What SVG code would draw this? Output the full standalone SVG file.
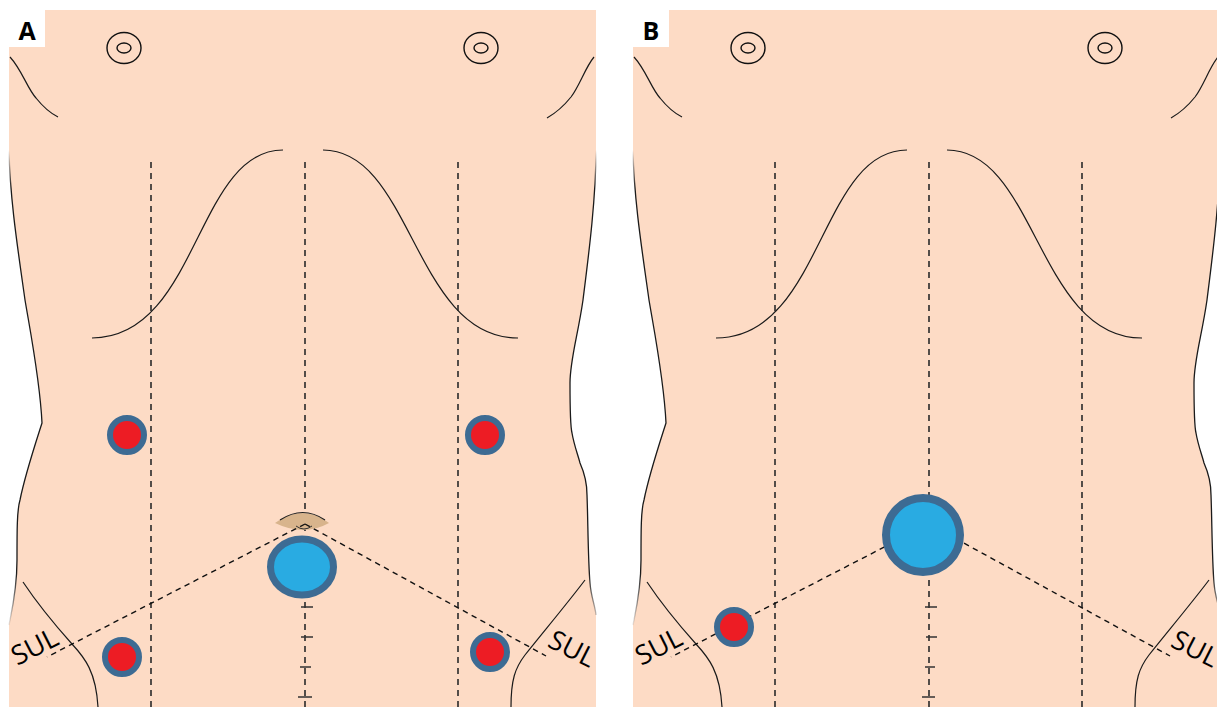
<svg xmlns="http://www.w3.org/2000/svg" width="1217" height="707" viewBox="0 0 1217 707">
<style>
.skin{fill:#fddbc5}
.outline{fill:none;stroke:url(#fadeV);stroke-width:1.3}
.crease{fill:none;stroke:#1a1a1a;stroke-width:1.2}
.nip{fill:none;stroke:#111;stroke-width:1.4}
.vdash{fill:none;stroke:#2a2a2a;stroke-width:1.6;stroke-dasharray:6 5}
.sul{fill:none;stroke:#111;stroke-width:1.4;stroke-dasharray:5.5 4.5}
.tick{stroke:#333;stroke-width:1.7}
.red{fill:#ed1c24;stroke:#3d6b93;stroke-width:6}
.blue{fill:#29abe2;stroke:#3d6b93}
.lbl{font-family:"Open Sans","Liberation Sans",sans-serif;font-size:27px;fill:#000}
.pl{font-family:"Open Sans","Liberation Sans",sans-serif;font-size:25px;font-weight:bold;fill:#000}
</style>
<defs>
<linearGradient id="fadeV" gradientUnits="userSpaceOnUse" x1="0" y1="150" x2="0" y2="630">
<stop offset="0" stop-color="#1a1a1a" stop-opacity="0"/>
<stop offset="0.08" stop-color="#1a1a1a" stop-opacity="1"/>
<stop offset="0.88" stop-color="#1a1a1a" stop-opacity="1"/>
<stop offset="1" stop-color="#1a1a1a" stop-opacity="0"/>
</linearGradient>
<g id="torso">
<path class="skin" d="M9,10 H596 V150 C596,200 588,260 583,300 C578,335 570,360 570,383 C570,410 570,425 572,433 C574,445 578,455 580,463 C584,472 587,482 587,495 C588,520 588,560 590,583 C591,597 595,605 596,615 V707 H9 V625 C12,610 17,590 17,560 C17,530 17,510 20,500 C25,475 35,445 42,423 C40,380 30,330 25,300 C18,250 10,200 9,150 Z"/>
<path class="outline" d="M9,150 C10,200 18,250 25,300 C30,330 40,380 42,423 C35,445 25,475 20,500 C17,510 17,530 17,560 C17,590 12,610 9,625"/>
<path class="outline" d="M596,150 C596,200 588,260 583,300 C578,335 570,360 570,383 C570,410 570,425 572,433 C574,445 578,455 580,463 C584,472 587,482 587,495 C588,520 588,560 590,583 C591,597 595,605 596,615"/>
<path class="crease" d="M10,57 C22,70 27,88 36,98 C44,108 52,114 58,117"/>
<path class="crease" d="M594,57 C585,68 580,85 571,97 C563,107 554,114 547,118"/>
<ellipse class="nip" cx="124" cy="48" rx="17" ry="15.5"/>
<ellipse class="nip" cx="124" cy="48" rx="7" ry="5"/>
<ellipse class="nip" cx="481" cy="48" rx="17" ry="15.5"/>
<ellipse class="nip" cx="481" cy="48" rx="7" ry="5"/>
<path class="crease" stroke-width="1.1" d="M92,338 C198,338 196,150 283,150"/>
<path class="crease" stroke-width="1.1" d="M518,338 C414,338 412,150 323,150"/>
<path class="crease" d="M23,582 C35,600 55,625 72,644 C85,658 96,672 98,707"/>
<path class="crease" d="M585,580 C570,600 545,630 525,655 C515,668 511,680 511,707"/>
<path class="vdash" d="M151,162 V707 M458,162 V707 M305,162 V707"/>
</g>
</defs>

<g id="panel-a">
<use href="#torso"/>
<g id="umbilicus">
<path d="M275,523 Q303,503 329,523 Q304,537 275,523 Z" fill="#d8b48c"/>
<path d="M280,520 Q303,505 325,520" fill="none" stroke="#222" stroke-width="1.2"/>
<path d="M296,526 Q304,532 312,526" fill="none" stroke="#333" stroke-width="1"/>
</g>
<g id="a-connectors">
<path class="sul" d="M305,524 L47,657 M305,524 L546,656"/>
<path class="tick" d="M301,607 H313 M301,637 H313 M300,667 H311 M298,697 H312"/>
</g>
<g id="a-port-camera"><ellipse class="blue" stroke-width="7" cx="302" cy="567" rx="31.5" ry="28"/></g>
<g id="a-port-lu"><circle class="red" cx="127" cy="435" r="17"/></g>
<g id="a-port-ru"><circle class="red" cx="485" cy="435" r="17"/></g>
<g id="a-port-ll"><circle class="red" cx="122" cy="657" r="17"/></g>
<g id="a-port-rl"><circle class="red" cx="490" cy="652" r="17"/></g>
<text class="lbl" text-anchor="middle" transform="translate(39,655) rotate(-27)">SUL</text>
<text class="lbl" text-anchor="middle" transform="translate(568,657) rotate(27)">SUL</text>
<g id="label-a"><rect x="9" y="10" width="36" height="37" fill="#fff"/><text class="pl" x="27" y="40" text-anchor="middle">A</text></g>
</g>

<g id="panel-b">
<use href="#torso" x="624"/>
<g id="b-connectors">
<path class="sul" d="M929,524 L671,657 M929,524 L1170,656"/>
<path class="tick" d="M925,607 H937 M926,637 H937 M925,667 H935 M922,697 H935"/>
</g>
<g id="b-port-single"><circle class="blue" stroke-width="8" cx="923" cy="535" r="37"/></g>
<g id="b-port-ll"><circle class="red" cx="734" cy="627" r="17"/></g>
<text class="lbl" text-anchor="middle" transform="translate(663,655) rotate(-27)">SUL</text>
<text class="lbl" text-anchor="middle" transform="translate(1191,657) rotate(27)">SUL</text>
<g id="label-b"><rect x="633" y="10" width="36" height="37" fill="#fff"/><text class="pl" x="651" y="40" text-anchor="middle">B</text></g>
</g>
</svg>
